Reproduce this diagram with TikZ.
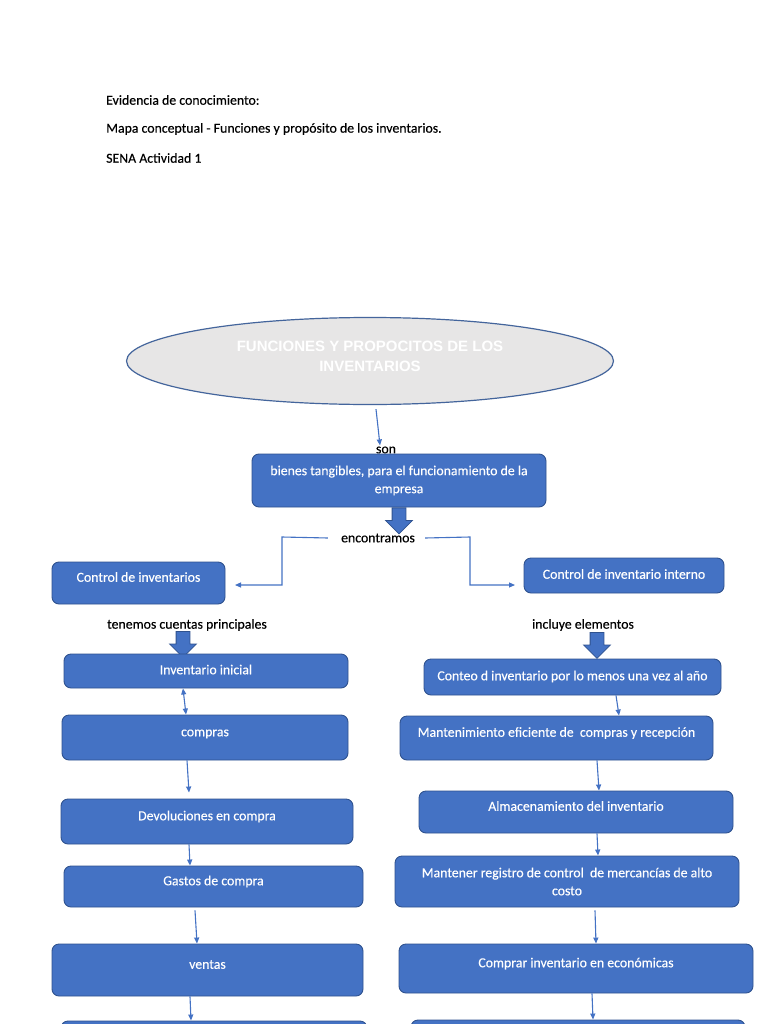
\documentclass[tikz,border=0pt]{standalone}
\usepackage{fontspec}
\setmainfont{Carlito}[FakeBold=0.3]
\newfontfamily\arialfont{Liberation Sans}
\usetikzlibrary{shapes.geometric,shapes.arrows,arrows.meta}
\definecolor{azulcaja}{HTML}{4472C4}
\definecolor{bordecaja}{HTML}{2F528F}
\definecolor{grisovalo}{HTML}{E7E6E6}
\definecolor{bordeovalo}{HTML}{44659C}
\tikzset{
  concepto/.style={draw=bordecaja, fill=azulcaja, line width=0.9pt, rounded corners=7pt,
    text=white, align=center, inner sep=0pt, font=\fontsize{13.8}{18}\selectfont},
  linea/.style={text height=9.5pt, text depth=3pt},
  subir/.style={text height=9.5pt, text depth=12pt},
  enlace/.style={inner sep=1pt, font=\fontsize{13.8}{18}\selectfont},
  cabecera/.style={anchor=west, inner sep=0pt, font=\fontsize{13.8}{18}\selectfont},
  flecha/.style={draw=azulcaja, line width=1.1pt, -{Triangle[length=6pt,width=5pt]}},
  bloque/.style={single arrow, draw=bordecaja, fill=azulcaja, line width=0.8pt, rotate=-90,
    anchor=tail, inner xsep=0pt, inner ysep=6.5pt, minimum width=25pt, minimum height=26pt,
    single arrow head extend=6.5pt, single arrow head indent=0pt}
}
\begin{document}
\begin{tikzpicture}[x=1pt,y=-1pt]
\clip (0,0) rectangle (768,1024);
\fill[white] (0,0) rectangle (768,1024);

% encabezado
\node[cabecera] (linea1) at (106,100) {Evidencia de conocimiento:};
\node[cabecera] (linea2) at (106,129) {Mapa conceptual - Funciones y propósito de los inventarios.};
\node[cabecera] (linea3) at (106,158) {SENA Actividad 1};

% titulo
\node[ellipse, draw=bordeovalo, fill=grisovalo, line width=1.2pt, minimum width=487pt,
  minimum height=87pt, text=white, align=center, text height=31pt, text depth=10pt,
  font=\arialfont\bfseries\fontsize{15}{20}\selectfont] (titulo) at (370,361)
  {FUNCIONES Y PROPOCITOS DE LOS\\INVENTARIOS};

\node[enlace] (son) at (386,450) {son};
\node[concepto, minimum width=294pt, minimum height=53pt] (bienes) at (399,480.5)
  {bienes tangibles, para el funcionamiento de la\\empresa};
\node[bloque] (flechaA) at (bienes.south -| 399,0) {};
\node[enlace] (encontramos) at (378,538) {encontramos};

% rama izquierda
\node[concepto, subir, minimum width=173pt, minimum height=42pt] (control) at (138.5,583) {Control de inventarios};
\node[enlace] (tenemos) at (187,625) {tenemos cuentas principales};
\node[bloque] (flechaB) at (183,631) {};
\node[concepto, linea, minimum width=284pt, minimum height=34pt] (inicial) at (206,671) {Inventario inicial};
\node[concepto, subir, minimum width=286pt, minimum height=45pt] (compras) at (205,737.5) {compras};
\node[concepto, subir, minimum width=292pt, minimum height=45pt] (devoluciones) at (207,821.5) {Devoluciones en compra};
\node[concepto, subir, minimum width=299pt, minimum height=41pt] (gastos) at (213.5,886.5) {Gastos de compra};
\node[concepto, subir, minimum width=311pt, minimum height=52pt] (ventas) at (207.5,970) {ventas};
\node[concepto, minimum width=306pt, minimum height=50pt] (siguienteA) at (214,1046) {};

% rama derecha
\node[concepto, linea, minimum width=200pt, minimum height=35pt] (interno) at (624,575.5) {Control de inventario interno};
\node[enlace] (incluye) at (583,625) {incluye elementos};
\node[bloque] (flechaC) at (597,632) {};
\node[concepto, linea, minimum width=297pt, minimum height=36pt] (conteo) at (572.5,677) {Conteo d inventario por lo menos una vez al año};
\node[concepto, subir, minimum width=313pt, minimum height=44pt] (mantenimiento) at (556.5,738) {Mantenimiento eficiente de~ compras y recepción};
\node[concepto, subir, minimum width=314pt, minimum height=42pt] (almacen) at (576,812) {Almacenamiento del inventario};
\node[concepto, minimum width=344pt, minimum height=51pt] (registro) at (567,881.5) {Mantener registro de control~ de mercancías de alto\\costo};
\node[concepto, subir, minimum width=354pt, minimum height=49pt] (comprar) at (576,968.5) {Comprar inventario en económicas};
\node[concepto, minimum width=334pt, minimum height=50pt] (siguienteB) at (578,1045) {};

\coordinate (finIzq) at (235,585);
\coordinate (finDer) at (515,585);

% conectores
\draw[flecha] (titulo.south -| 376,0) ++(0,4) -- (son.north -| 380,0);
\draw[flecha] ([xshift=-12pt]encontramos.west) -- (282,537) -- (282,585) -- (finIzq);
\draw[flecha] ([xshift=9pt]encontramos.east) -- (470,537) -- (470,585) -- (finDer);
\draw[flecha, {Triangle[length=6pt,width=5pt]}-{Triangle[length=6pt,width=5pt]}]
  (inicial.south -| 183,0) -- (compras.north -| 186,0);
\draw[flecha] (compras.south -| 187,0) -- ([yshift=6pt]devoluciones.north -| 189,0);
\draw[flecha] (devoluciones.south -| 189,0) -- (gastos.north -| 190,0);
\draw[flecha] (gastos.south -| 195,0) ++(0,3) -- (ventas.north -| 197,0);
\draw[flecha] (ventas.south -| 190,0) -- (siguienteA.north -| 191,0);
\draw[flecha] (conteo.south -| 616,0) -- (mantenimiento.north -| 619,0);
\draw[flecha] (mantenimiento.south -| 597,0) -- (almacen.north -| 599,0);
\draw[flecha] (almacen.south -| 597,0) -- (registro.north -| 598,0);
\draw[flecha] (registro.south -| 595,0) ++(0,3) -- (comprar.north -| 596,0);
\draw[flecha] (comprar.south -| 592,0) -- (siguienteB.north -| 593,0);
\end{tikzpicture}
\end{document}
